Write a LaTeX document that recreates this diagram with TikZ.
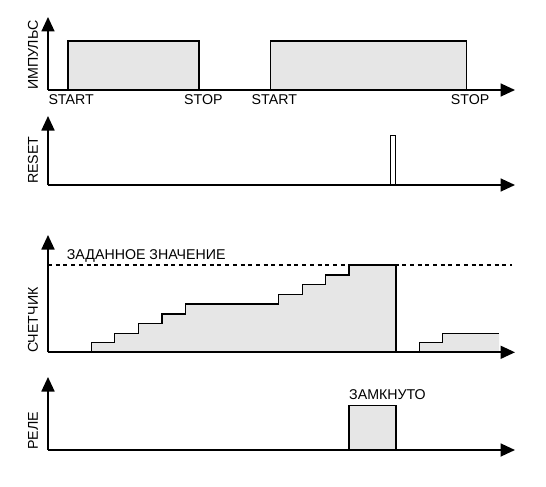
\documentclass[tikz,border=0pt]{standalone}
\usepackage{fontspec}
\setmainfont{Liberation Sans}
\usetikzlibrary{arrows.meta}
\definecolor{sigfill}{RGB}{230,230,230}
\tikzset{
  axis/.style={line width=1.8pt, -{Triangle[length=14.5pt,width=13pt]}},
  sig/.style={line width=1.4pt, line join=miter},
  sigarea/.style={sig, fill=sigfill},
  lbl/.style={inner sep=0pt, font=\fontsize{14.2}{16}\selectfont},
  ylbl/.style={lbl, rotate=90, anchor=west},
  setpt/.style={line width=1.8pt, dash pattern=on 4pt off 3.7pt},
}
\begin{document}
\begin{tikzpicture}[x=1pt,y=-1pt]
\useasboundingbox (0,0) rectangle (546,487);
% ---------- panel 1: ИМПУЛЬС ----------
\coordinate (o1) at (48,90);
\coordinate (t1) at (48,17);
\coordinate (r1) at (515,90);
\draw[sigarea] (68,90) rectangle (199,41);
\draw[sigarea] (270.7,90) rectangle (466.7,41);
\draw[axis] (o1) -- (t1);
\draw[axis] (o1) -- (r1);
\node[ylbl] (l1) at (33,90) {ИМПУЛЬС};
\node[lbl, anchor=west] (start1) at (48.3,100) {START};
\node[lbl, anchor=west] (stop1) at (184,100) {STOP};
\node[lbl, anchor=west] (start2) at (251.5,100) {START};
\node[lbl, anchor=west] (stop2) at (450.7,100) {STOP};
% ---------- panel 2: RESET ----------
\coordinate (o2) at (48,185);
\coordinate (t2) at (48,116);
\coordinate (r2) at (515,185);
\draw[sig, fill=white] (390.7,185) rectangle (395.7,135.7);
\draw[axis] (o2) -- (t2);
\draw[axis] (o2) -- (r2);
\node[ylbl] (l2) at (33,184) {RESET};
% ---------- panel 3: СЧЕТЧИК ----------
\coordinate (o3) at (48,352.3);
\coordinate (t3) at (48,235);
\coordinate (r3) at (515,352.3);
\draw[sigarea] (91.7,352.3) -- (91.7,342.7) -- (114.7,342.7) -- (114.7,333.3)
  -- (138.3,333.3) -- (138.3,323.7) -- (162,323.7) -- (162,314)
  -- (185.3,314) -- (185.3,304) -- (278.7,304) -- (278.7,294.3)
  -- (302.3,294.3) -- (302.3,284.3) -- (325.7,284.3) -- (325.7,275)
  -- (349,275) -- (349,265) -- (396,265) -- (396,352.3);
\fill[sigfill] (419.3,352.3) -- (419.3,342.7) -- (442.7,342.7) -- (442.7,333.3)
  -- (499,333.3) -- (499,352.3) -- cycle;
\draw[sig] (419.3,352.3) -- (419.3,342.7) -- (442.7,342.7) -- (442.7,333.3)
  -- (499,333.3);
\coordinate (d0) at (48,265);
\coordinate (d1) at (512,265);
\draw[setpt] (d0) -- (d1);
\draw[axis] (o3) -- (t3);
\draw[axis] (o3) -- (r3);
\node[ylbl] (l3) at (33,353) {СЧЕТЧИК};
\node[lbl, anchor=west] (setv) at (66.7,256) {ЗАДАННОЕ ЗНАЧЕНИЕ};
% ---------- panel 4: РЕЛЕ ----------
\coordinate (o4) at (48,450);
\coordinate (t4) at (48,377);
\coordinate (r4) at (515,450);
\draw[sigarea] (349,450) rectangle (396,405.5);
\draw[axis] (o4) -- (t4);
\draw[axis] (o4) -- (r4);
\node[ylbl] (l4) at (33,450) {РЕЛЕ};
\node[lbl, anchor=west] (closed) at (349,395) {ЗАМКНУТО};
\end{tikzpicture}
\end{document}
